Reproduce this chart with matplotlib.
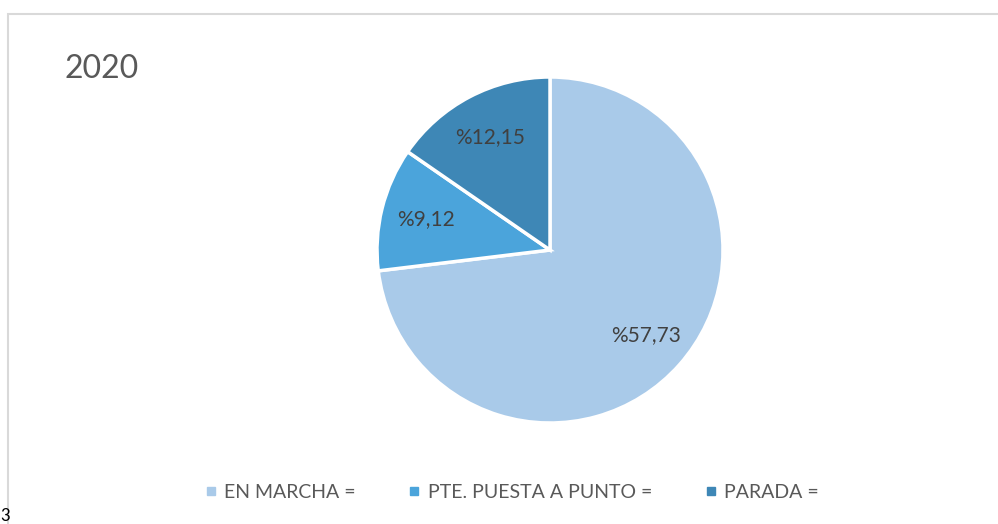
import matplotlib
matplotlib.use("Agg")
import matplotlib.pyplot as plt
from matplotlib.patches import Rectangle
from matplotlib.lines import Line2D

plt.rcParams["font.family"] = ["Lato", "DejaVu Sans"]

categories = ["EN MARCHA =", "PTE. PUESTA A PUNTO =", "PARADA ="]
values = [57.73, 9.12, 12.15]
value_labels = ["%57,73", "%9,12", "%12,15"]
colors = ["#A9CAE9", "#4BA4DB", "#3E87B6"]
title = "2020"

W, H = 998, 524
fig = plt.figure(figsize=(W / 100, H / 100), dpi=100)

# chart frame (runs off the right and bottom edge)
fig.patches.append(Rectangle((8 / W, -0.05), 1.1, 1 - 14 / H + 0.05,
                             transform=fig.transFigure, fill=False,
                             edgecolor="#D9D9D9", linewidth=1.5))

cx, cy, r = 550, 250, 173
ax = fig.add_axes([(cx - r) / W, (H - cy - r) / H, 2 * r / W, 2 * r / H])
wedges, texts = ax.pie(values, labels=value_labels, colors=colors,
                       startangle=90, counterclock=False, labeldistance=0.74,
                       wedgeprops=dict(edgecolor="white", linewidth=2.5))
for t in texts:
    t.set_ha("center")
    t.set_va("center")
    t.set_fontsize(15)
    t.set_color("#404040")
ax.set_xlim(-1, 1)
ax.set_ylim(-1, 1)
for w in wedges:
    w.set_clip_on(False)

fig.text(64 / W, 1 - 69 / H, title, fontsize=23, color="#595959",
         ha="left", va="center")

handles = [Line2D([], [], marker="s", linestyle="none", markersize=6,
                  markerfacecolor=c, markeredgecolor=c) for c in colors]
fig.legend(handles, categories, loc="center", bbox_to_anchor=(511 / W, 1 - 492 / H),
           ncol=3, frameon=False, fontsize=14, handlelength=0.8,
           handletextpad=0.3, columnspacing=2.6, labelcolor="#595959")

fig.text(0.0, 0.0, "3", fontsize=12, color="black", ha="left", va="bottom")

fig.savefig("out.png", dpi=100)
